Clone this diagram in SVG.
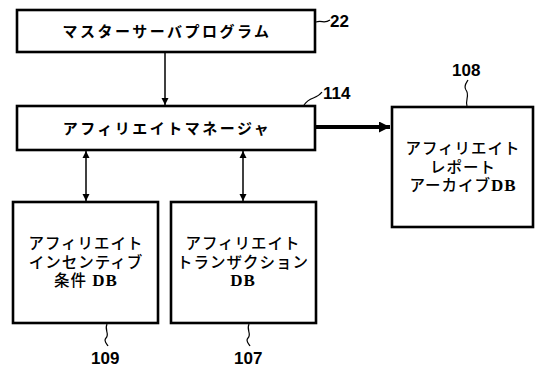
<svg xmlns="http://www.w3.org/2000/svg" width="536" height="376" viewBox="0 0 536 376">
<style>
.box{fill:#fff;stroke:#000;stroke-width:2.6}
.t{font-family:"Noto Sans CJK JP","Noto Sans",sans-serif;font-weight:bold;font-size:15px;letter-spacing:2.5px;text-anchor:middle;fill:#000}
.b{font-family:"Liberation Sans","Noto Sans CJK JP",sans-serif;font-size:15.5px;letter-spacing:1px;text-anchor:middle;fill:#000;font-weight:500}
.db{font-family:"Liberation Serif",serif;font-weight:bold;font-size:17px}
.n{font-family:"Liberation Sans",Arial,sans-serif;font-weight:bold;font-size:17px;fill:#000}
.ln{fill:none;stroke:#000;stroke-width:1.5}
.ld{fill:none;stroke:#000;stroke-width:1.2}
</style>
<defs>
<marker id="ah" viewBox="0 0 10 10" refX="10" refY="5" markerWidth="7" markerHeight="9" markerUnits="userSpaceOnUse" orient="auto-start-reverse">
<path d="M0,0 L10,5 L0,10 z" fill="#000"/>
</marker>
<marker id="ahb" viewBox="0 0 10 10" refX="10" refY="5" markerWidth="14" markerHeight="11" markerUnits="userSpaceOnUse" orient="auto">
<path d="M0,0 L10,5 L0,10 z" fill="#000"/>
</marker>
</defs>
<g id="connectors">
<line class="ln" x1="165" y1="52" x2="165" y2="105" marker-end="url(#ah)"/>
<line class="ln" x1="86" y1="151" x2="86" y2="201" marker-start="url(#ah)" marker-end="url(#ah)"/>
<line class="ln" x1="243" y1="151" x2="243" y2="201" marker-start="url(#ah)" marker-end="url(#ah)"/>
<line x1="316" y1="127" x2="390" y2="127" stroke="#000" stroke-width="4" marker-end="url(#ahb)"/>
</g>
<g id="n22">
<rect class="box" x="17" y="10" width="298" height="42"/>
<text class="t" x="167" y="37">マスターサーバプログラム</text>
<path class="ld" d="M316,22 C322,20 324,24 330,20"/>
<text class="n" x="330" y="27">22</text>
</g>
<g id="n114">
<rect class="box" x="17" y="106" width="298" height="44"/>
<text class="t" x="167" y="134">アフィリエイトマネージャ</text>
<path class="ld" d="M304,105 C310,96 316,100 322,92"/>
<text class="n" x="323" y="99">114</text>
</g>
<g id="n108">
<rect class="box" x="392" y="107" width="141" height="120"/>
<text class="b" x="463" y="154">アフィリエイト<tspan x="463" dy="18.5">レポート</tspan><tspan x="463" dy="18.5">アーカイブ<tspan class="db">DB</tspan></tspan></text>
<path class="ld" d="M467,106 C465,100 470,95 466,90 C463,86 467,82 468,80"/>
<text class="n" x="452" y="76">108</text>
</g>
<g id="n109">
<rect class="box" x="13" y="202" width="145" height="121"/>
<text class="b" x="86" y="249">アフィリエイト<tspan x="86" dy="18.5">インセンティブ</tspan><tspan x="86" dy="18.5">条件 <tspan class="db">DB</tspan></tspan></text>
<path class="ld" d="M107,324 C104,330 110,334 106,338 C103,341 107,344 108,346"/>
<text class="n" x="91" y="364">109</text>
</g>
<g id="n107">
<rect class="box" x="171" y="202" width="145" height="121"/>
<text class="b" x="243" y="249">アフィリエイト<tspan x="243" dy="18.5">トランザクション</tspan><tspan x="243" dy="18.5" class="db">DB</tspan></text>
<path class="ld" d="M249,324 C246,330 252,334 248,338 C245,341 249,344 250,346"/>
<text class="n" x="234" y="364">107</text>
</g>
</svg>
